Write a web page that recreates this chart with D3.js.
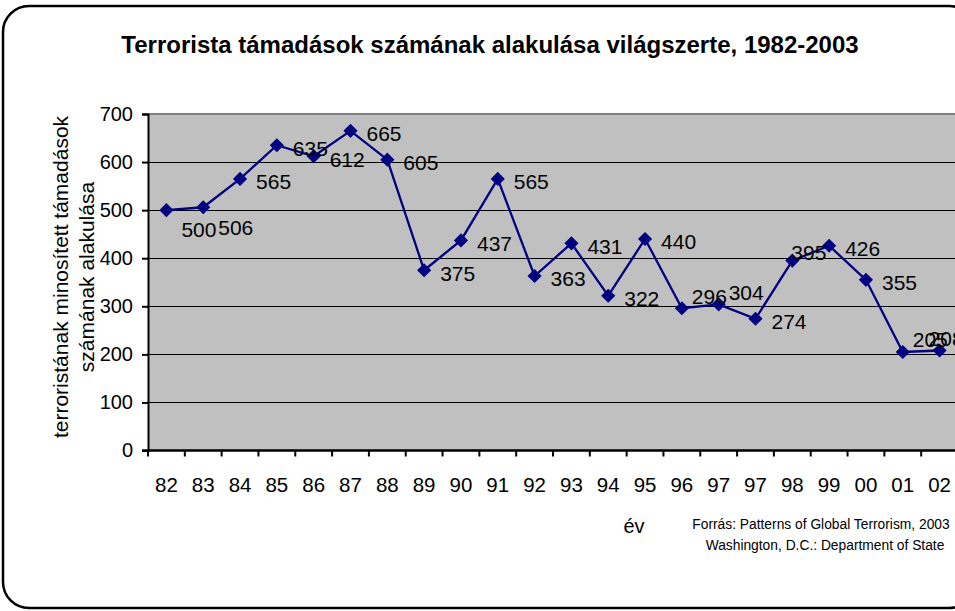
<!DOCTYPE html>
<html>
<head>
<meta charset="utf-8">
<script src="https://cdn.jsdelivr.net/npm/d3@7"></script>
<style>
  body { margin: 0; background: #fff; }
  svg text { font-family: "Liberation Sans", Arial, sans-serif; fill: #000; }
</style>
</head>
<body>
<div id="chart"></div>
<script>
// Data
var years = ["82", "83", "84", "85", "86", "87", "88", "89", "90", "91", "92",
             "93", "94", "95", "96", "97", "97", "98", "99", "00", "01", "02"];
var attacks = [500, 506, 565, 635, 612, 665, 605, 375, 437, 565, 363,
               431, 322, 440, 296, 304, 274, 395, 426, 355, 205, 208];
// where each data label sits relative to its marker
var labelPlace = ["below", "below", "right", "right", "right", "right", "right", "right", "right", "right", "right",
                  "right", "right", "right", "above", "above", "right", "top", "right", "right", "above", "aboveLeft"];
var yTicks = [0, 100, 200, 300, 400, 500, 600, 700];

var W = 955, H = 611;
var svg = d3.select("#chart").append("svg").attr("width", W).attr("height", H);

// chart frame
svg.append("rect")
    .attr("x", 3).attr("y", 6).attr("width", 972).attr("height", 602)
    .attr("rx", 26).attr("ry", 26)
    .attr("fill", "#fff").attr("stroke", "#000").attr("stroke-width", 2.5);

var pLeft = 148, pRight = 958, pTop = 114, pBottom = 450.5;

var x = d3.scaleBand().domain(d3.range(years.length)).range([pLeft, pRight]);
var y = d3.scaleLinear().domain([0, 700]).range([pBottom, pTop]);

// plot area
svg.append("rect")
    .attr("x", pLeft).attr("y", pTop).attr("width", pRight - pLeft).attr("height", pBottom - pTop)
    .attr("fill", "#C0C0C0");
svg.append("line")
    .attr("x1", pLeft).attr("x2", pRight).attr("y1", pTop).attr("y2", pTop)
    .attr("stroke", "#808080").attr("stroke-width", 2);

// gridlines
svg.append("g").selectAll("line")
    .data(yTicks.filter(function(t) { return t > 0 && t < 700; }))
    .join("line")
    .attr("x1", pLeft).attr("x2", pRight)
    .attr("y1", function(d) { return Math.round(y(d)) + 0.5; })
    .attr("y2", function(d) { return Math.round(y(d)) + 0.5; })
    .attr("stroke", "#000").attr("stroke-width", 1);

// y axis
var yAxis = svg.append("g")
    .attr("transform", "translate(" + pLeft + ",0)")
    .call(d3.axisLeft(y).tickValues(yTicks).tickSize(6).tickPadding(9));
yAxis.select(".domain").attr("stroke-width", 2);
yAxis.selectAll(".tick line").attr("stroke-width", 2);
yAxis.selectAll("text").style("font-size", "20px").style("font-family", "Liberation Sans, Arial, sans-serif");

// x axis
var xAxis = svg.append("g")
    .attr("transform", "translate(0," + pBottom + ")");
xAxis.append("line")
    .attr("x1", pLeft - 6).attr("x2", pRight).attr("y1", 0).attr("y2", 0)
    .attr("stroke", "#000").attr("stroke-width", 2.5);
xAxis.selectAll("line.tk")
    .data(d3.range(years.length + 1))
    .join("line").attr("class", "tk")
    .attr("x1", function(i) { return pLeft + i * x.step(); })
    .attr("x2", function(i) { return pLeft + i * x.step(); })
    .attr("y1", 0).attr("y2", 6)
    .attr("stroke", "#000").attr("stroke-width", 2);
xAxis.selectAll("text")
    .data(years)
    .join("text")
    .attr("x", function(d, i) { return x(i) + x.bandwidth() / 2; })
    .attr("y", 41)
    .attr("text-anchor", "middle")
    .style("font-size", "20.5px")
    .text(function(d) { return d; });

// line + markers
var cx = function(d, i) { return x(i) + x.bandwidth() / 2; };
var line = d3.line()
    .x(cx)
    .y(function(d) { return y(d); });

svg.append("path")
    .datum(attacks)
    .attr("fill", "none")
    .attr("stroke", "#000080")
    .attr("stroke-width", 2.3)
    .attr("d", line);

svg.append("g").selectAll("path")
    .data(attacks)
    .join("path")
    .attr("d", d3.symbol(d3.symbolSquare, 100))
    .attr("transform", function(d, i) { return "translate(" + cx(d, i) + "," + y(d) + ") rotate(45)"; })
    .attr("fill", "#000080");

// data labels
var off = { right: [16, 3], below: [15, 20], above: [10, -12], top: [-1, -8], aboveLeft: [-11, -12] };
svg.append("g").selectAll("text")
    .data(attacks)
    .join("text")
    .attr("x", function(d, i) { return cx(d, i) + off[labelPlace[i]][0]; })
    .attr("y", function(d, i) { return y(d) + off[labelPlace[i]][1]; })
    .attr("dy", "0.35em")
    .style("font-size", "21px")
    .text(function(d) { return d; });

// titles
svg.append("text")
    .attr("x", 490).attr("y", 53)
    .attr("text-anchor", "middle")
    .style("font-size", "24px").style("font-weight", "bold")
    .text("Terrorista támadások számának alakulása világszerte, 1982-2003");

var yt = svg.append("text")
    .attr("transform", "translate(61,277) rotate(-90)")
    .attr("text-anchor", "middle")
    .style("font-size", "21px");
yt.append("tspan").attr("x", 0).attr("dy", "0.35em").text("terroristának minosített támadások");
yt.append("tspan").attr("x", 0).attr("dy", "1.2em").text("számának alakulása");

svg.append("text")
    .attr("x", 634).attr("y", 533)
    .attr("text-anchor", "middle")
    .style("font-size", "20px")
    .text("év");

svg.append("text")
    .attr("x", 821).attr("y", 529)
    .attr("text-anchor", "middle")
    .style("font-size", "13.8px")
    .text("Forrás: Patterns of Global Terrorism, 2003");
svg.append("text")
    .attr("x", 825).attr("y", 550)
    .attr("text-anchor", "middle")
    .style("font-size", "13.8px")
    .text("Washington, D.C.: Department of State");
</script>
</body>
</html>
